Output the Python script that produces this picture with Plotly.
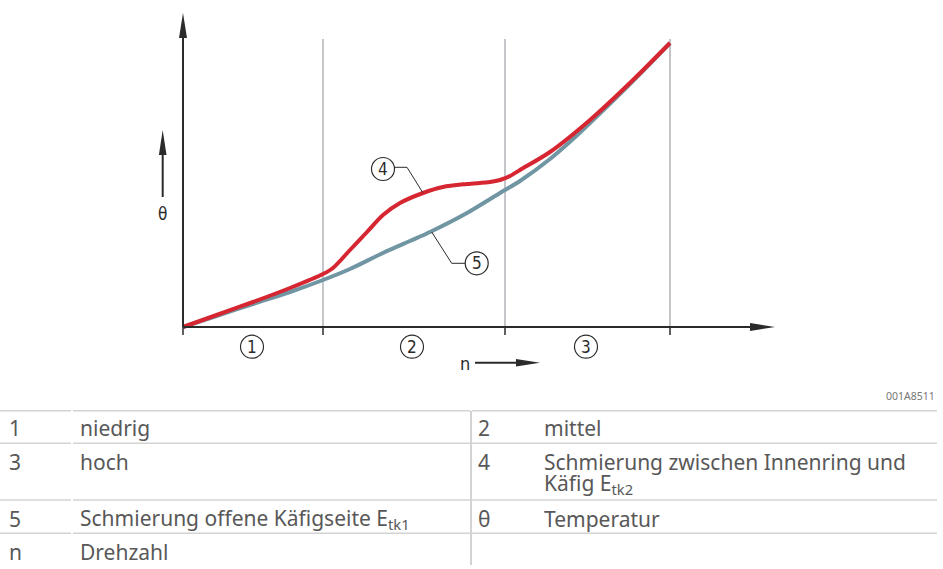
import plotly.graph_objects as go

# ---- data (schematic units: n = speed, theta = temperature) ----
n_open = [0, 0.35, 0.70, 1.07, 1.40, 1.67, 2.00, 2.47, 2.84, 3.17, 3.37, 3.67, 3.90, 4.07, 4.50, 4.87]
theta_open = [0, 0.115, 0.23, 0.35, 0.47, 0.58, 0.74, 0.95, 1.14, 1.34, 1.46, 1.68, 1.88, 2.04, 2.46, 2.84]

n_inner = [0, 0.35, 0.70, 1.07, 1.40, 1.50, 1.67, 1.84, 2.00, 2.17, 2.40, 2.60, 2.84, 3.07, 3.17, 3.27, 3.37, 3.67, 4.07, 4.50, 4.87]
theta_inner = [0, 0.125, 0.25, 0.39, 0.53, 0.59, 0.77, 0.95, 1.12, 1.24, 1.34, 1.40, 1.43, 1.45, 1.47, 1.51, 1.57, 1.75, 2.07, 2.47, 2.84]

region_bounds = [0, 1.40, 3.22, 4.87]
region_labels = ["1", "2", "3"]
region_label_x = [0.69, 2.29, 4.03]

legend_left = [("1", "niedrig"), ("3", "hoch"), ("5", "Schmierung offene Käfigseite E<sub>tk1</sub>"), ("n", "Drehzahl")]
legend_right = [("2", "mittel"), ("4", "Schmierung zwischen Innenring und"), ("θ", "Temperatur")]
figure_code = "001A8511"

RED = "#d52631"
BLUE = "#7196a3"
AXIS = "#2b2b2b"
GRID = "#c6c6ca"
TXT = "#585858"
CFONT = "Liberation Sans Narrow, DejaVu Sans Condensed, Noto Sans, sans-serif"
TFONT = "Noto Sans, Open Sans, sans-serif"
TSIZE = 21

fig = go.Figure()
fig.add_trace(go.Scatter(x=n_open, y=theta_open, mode="lines",
                         line=dict(color=BLUE, width=4, shape="spline", smoothing=0.8),
                         hoverinfo="skip", showlegend=False))
fig.add_trace(go.Scatter(x=n_inner, y=theta_inner, mode="lines",
                         line=dict(color=RED, width=4, shape="spline", smoothing=0.8),
                         hoverinfo="skip", showlegend=False))

shapes = []
ann = []

# vertical region lines
for xb in region_bounds[1:]:
    shapes.append(dict(type="line", x0=xb, x1=xb, y0=0, y1=2.88, line=dict(color=GRID, width=2), layer="below"))
# ticks below x axis
for xb in region_bounds:
    shapes.append(dict(type="line", x0=xb, x1=xb, y0=0, y1=-0.08, line=dict(color=AXIS, width=1.5)))

# axes with arrowheads
shapes.append(dict(type="line", x0=0, x1=0, y0=0, y1=2.92, line=dict(color=AXIS, width=2)))
shapes.append(dict(type="path", path="M -0.04 2.89 L 0 3.14 L 0.04 2.89 Z", fillcolor=AXIS, line=dict(width=0)))
shapes.append(dict(type="line", x0=0, x1=5.70, y0=0, y1=0, line=dict(color=AXIS, width=2)))
shapes.append(dict(type="path", path="M 5.67 0.04 L 5.92 0 L 5.67 -0.04 Z", fillcolor=AXIS, line=dict(width=0)))

# theta arrow
shapes.append(dict(type="line", x0=-0.203, x1=-0.203, y0=1.30, y1=1.74, line=dict(color=AXIS, width=2)))
shapes.append(dict(type="path", path="M -0.241 1.72 L -0.203 1.97 L -0.165 1.72 Z", fillcolor=AXIS, line=dict(width=0)))
ann.append(dict(x=-0.203, y=1.13, text="θ", showarrow=False, font=dict(family=CFONT, size=17, color=AXIS)))

# n arrow
shapes.append(dict(type="line", x0=2.92, x1=3.36, y0=-0.357, y1=-0.357, line=dict(color=AXIS, width=2)))
shapes.append(dict(type="path", path="M 3.33 -0.32 L 3.57 -0.357 L 3.33 -0.394 Z", fillcolor=AXIS, line=dict(width=0)))
ann.append(dict(x=2.82, y=-0.36, text="n", showarrow=False, font=dict(family=CFONT, size=18, color=AXIS)))

# circled labels
R = 0.115
def circ(cx, cy, label):
    shapes.append(dict(type="circle", x0=cx - R, x1=cx + R, y0=cy - R, y1=cy + R,
                       line=dict(color=AXIS, width=1.2), fillcolor="white"))
    ann.append(dict(x=cx, y=cy, text=label, showarrow=False, font=dict(family=CFONT, size=17, color=AXIS)))

for lx, lb in zip(region_label_x, region_labels):
    circ(lx, -0.197, lb)

# leader lines
shapes.append(dict(type="path", path="M 2.115 1.597 L 2.24 1.597 L 2.397 1.345", line=dict(color=AXIS, width=1)))
shapes.append(dict(type="path", path="M 2.82 0.637 L 2.687 0.637 L 2.487 0.95", line=dict(color=AXIS, width=1)))
circ(2.00, 1.58, "4")
circ(2.937, 0.637, "5")

# figure code
ann.append(dict(x=7.54, y=-0.687, text=figure_code, showarrow=False, xanchor="right",
                font=dict(family=TFONT, size=10.5, color="#777777")))

# legend table lines
for yl in [-0.837, -1.163, -1.73, -2.063]:
    shapes.append(dict(type="line", x0=-1.83, x1=-1.12, y0=yl, y1=yl, line=dict(color="#d3d3d3", width=1.5)))
    shapes.append(dict(type="line", x0=-1.10, x1=2.87, y0=yl, y1=yl, line=dict(color="#d3d3d3", width=1.5)))
    shapes.append(dict(type="line", x0=2.89, x1=7.54, y0=yl, y1=yl, line=dict(color="#d3d3d3", width=1.5)))
shapes.append(dict(type="line", x0=2.88, x1=2.88, y0=-0.837, y1=-2.38, line=dict(color="#d3d3d3", width=2)))

left_rows_y = [-1.013, -1.35, -1.92, -2.247]
for (k, v), yy in zip(legend_left, left_rows_y):
    ann.append(dict(x=-1.76, y=yy, text=k, showarrow=False, xanchor="left", font=dict(family=TFONT, size=TSIZE, color=TXT)))
    ann.append(dict(x=-1.05, y=yy, text=v, showarrow=False, xanchor="left", font=dict(family=TFONT, size=TSIZE, color=TXT)))
right_rows_y = [-1.013, -1.35, -1.92]
for (k, v), yy in zip(legend_right, right_rows_y):
    ann.append(dict(x=2.93, y=yy, text=k, showarrow=False, xanchor="left", font=dict(family=TFONT, size=TSIZE, color=TXT)))
    ann.append(dict(x=3.59, y=yy, text=v, showarrow=False, xanchor="left", font=dict(family=TFONT, size=TSIZE, color=TXT)))
ann.append(dict(x=3.59, y=-1.57, text="Käfig E<sub>tk2</sub>", showarrow=False, xanchor="left",
                font=dict(family=TFONT, size=TSIZE, color=TXT)))

fig.update_layout(
    width=943, height=569,
    margin=dict(l=0, r=0, t=0, b=0),
    paper_bgcolor="white", plot_bgcolor="white",
    xaxis=dict(range=[-1.83, 7.60], visible=False, fixedrange=True),
    yaxis=dict(range=[-2.42, 3.27], visible=False, fixedrange=True),
    shapes=shapes, annotations=ann, showlegend=False,
)

fig.write_html("out.html", config={"displayModeBar": False},
               post_script="document.body.style.margin='0';document.body.style.overflow='hidden';")
